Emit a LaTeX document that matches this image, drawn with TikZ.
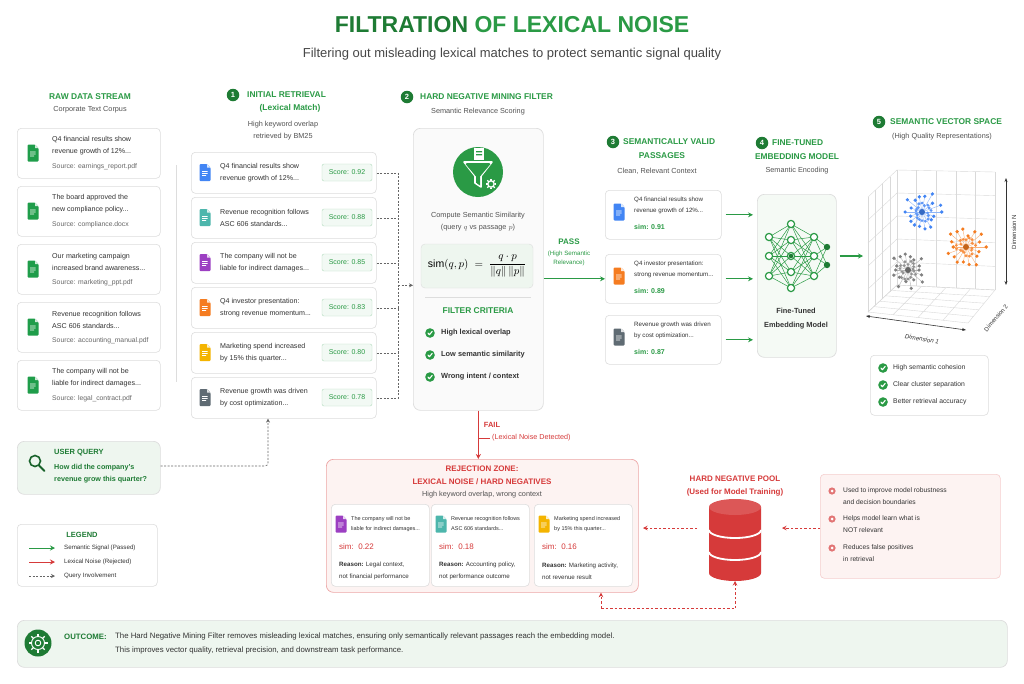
\documentclass[tikz,border=0pt]{standalone}
\usepackage{fontspec}
\setmainfont{Liberation Sans}
\usetikzlibrary{arrows.meta,shapes.geometric,calc}
\definecolor{gD}{HTML}{1E7B34}
\definecolor{gC}{HTML}{2A9A45}
\definecolor{gL}{HTML}{EEF6EF}
\definecolor{rC}{HTML}{D63A3A}
\definecolor{rL}{HTML}{FDF3F2}
\definecolor{txt}{HTML}{333333}
\definecolor{gry}{HTML}{666666}
\definecolor{bdr}{HTML}{DDDDDD}
\definecolor{icB}{HTML}{4285F4}
\definecolor{icT}{HTML}{4DB6AC}
\definecolor{icP}{HTML}{9C3FC2}
\definecolor{icO}{HTML}{F57C20}
\definecolor{icY}{HTML}{F4B400}
\definecolor{icG}{HTML}{5F6B73}
\definecolor{icN}{HTML}{1F9D4A}
\newcommand\fs[2]{\fontsize{#1}{#2}\selectfont}
\newcommand\dd{.\kern0pt.\kern0pt.}
\tikzset{
  card/.style={draw=bdr, fill=white, rounded corners=4pt, line width=0.6pt, anchor=north west, inner sep=0},
  panel/.style={draw=bdr, fill=gL!60, rounded corners=7pt, line width=0.7pt, anchor=north west, inner sep=0},
  ctext/.style={anchor=west, align=left, text=txt, font=\fs{7.1}{12}, inner sep=0},
  stext/.style={anchor=west, text=gry, font=\fs{6.8}{8}, inner sep=0},
  head/.style={text=gC, font=\bfseries\fs{8.4}{13}, align=center, inner sep=0},
  sub/.style={text=txt!85, font=\fs{7.3}{12}, align=center, inner sep=0},
  num/.style={circle, fill=gD, text=white, font=\bfseries\fs{7.5}{7}, minimum size=12.5pt, inner sep=0},
  badge/.style={draw=gC!35, fill=gC!6, rounded corners=2pt, text=gC, font=\fs{7}{8}, minimum width=50pt, minimum height=17pt, inner sep=0},
  garrow/.style={draw=gC, line width=1.1pt, -{Stealth[length=5pt,width=5pt]}},
  rarrow/.style={draw=rC, line width=1pt, -{Stealth[length=5pt,width=5pt]}},
  qline/.style={draw=gry, line width=0.6pt, dash pattern=on 2pt off 1.5pt},
  qarrow/.style={qline, -{Stealth[length=4pt,width=4pt]}},
  rdash/.style={draw=rC, line width=0.9pt, dash pattern=on 2.5pt off 2pt, -{Stealth[length=4.5pt,width=4.5pt]}},
  pics/doc/.style={code={
    \fill[#1, rounded corners=1pt] (-5.5,8.5) -- (-5.5,-8.5) -- (2,-8.5) -- (5.5,-5) -- (5.5,8.5) -- cycle;
    \fill[white!80!#1] (2,-8.5) -- (2,-5) -- (5.5,-5) -- cycle;
    \fill[white] (-3,-1.5) rectangle (2.5,-0.7) (-3,0.5) rectangle (2.5,1.3) (-3,2.5) rectangle (1,3.3);}},
  pics/chk/.style={code={
    \fill[gC] (0,0) circle (4.8);
    \draw[white, line width=1.1pt, line cap=round, line join=round] (-2.1,0.1) -- (-0.6,1.7) -- (2.2,-1.6);}},
  pics/rdot/.style={code={\fill[rC!70] (0,0) circle (3.6); \fill[white] (0,0) circle (1.5);}},
}
\begin{document}
\begin{tikzpicture}[x=1pt,y=-1pt]
\useasboundingbox (0,0) rectangle (1024,683);
\fill[white] (0,0) rectangle (1024,683);

% ---------- title ----------
\node[font=\bfseries\fs{23}{26}, inner sep=0] (title) at (512,25) {\textcolor{gD}{FILTRATION} \textcolor{gC}{OF LEXICAL NOISE}};
\node[font=\fs{13}{15}, text=txt!90, inner sep=0] (subtitle) at (512,54) {Filtering out misleading lexical matches to protect semantic signal quality};

% ---------- raw data stream ----------
\node[head] (rawh) at (90,97) {RAW DATA STREAM};
\node[sub] (raws) at (90,110) {Corporate Text Corpus};
\foreach \i/\a/\b/\s in {1/Q4 financial results show/revenue growth of 12\%\dd/earnings\_report.pdf,
  2/The board approved the/new compliance policy\dd/compliance.docx,
  3/Our marketing campaign/increased brand awareness\dd/marketing\_ppt.pdf,
  4/Revenue recognition follows/ASC 606 standards\dd/accounting\_manual.pdf,
  5/The company will not be/liable for indirect damages\dd/legal\_contract.pdf}{
  \pgfmathsetmacro\top{128+58*(\i-1)}
  \node[card, minimum width=143pt, minimum height=50pt] (raw\i) at (17,\top) {};
  \pic at (33,\top+25) {doc=icN};
  \node[ctext] (rawt\i) at (52,\top+18) {\a\\\b};
  \node[stext] (raws\i) at (52,\top+39) {Source: \s};
}
\draw[bdr, line width=0.7pt] (176,165) -- (176,382);

% ---------- initial retrieval ----------
\node[num] (n1) at (233,95) {1};
\node[head, anchor=west] (reth) at (247,95) {INITIAL RETRIEVAL};
\node[head] (reth2) at (290,108) {(Lexical Match)};
\node[sub] (rets) at (283,131) {High keyword overlap\\retrieved by BM25};
\foreach \i/\c/\a/\b/\sc in {1/icB/Q4 financial results show/revenue growth of 12\%\dd/0.92,
  2/icT/Revenue recognition follows/ASC 606 standards\dd/0.88,
  3/icP/The company will not be/liable for indirect damages\dd/0.85,
  4/icO/Q4 investor presentation:/strong revenue momentum\dd/0.83,
  5/icY/Marketing spend increased/by 15\% this quarter\dd/0.80,
  6/icG/Revenue growth was driven/by cost optimization\dd/0.78}{
  \pgfmathsetmacro\top{152+45*(\i-1)}
  \node[card, minimum width=185pt, minimum height=41pt] (ret\i) at (191,\top) {};
  \pic at (205,\top+20.5) {doc=\c};
  \node[ctext] (rett\i) at (220,\top+20.5) {\a\\\b};
  \node[badge] (sc\i) at (347,\top+20.5) {Score: \sc};
}
\coordinate (bus) at (398,0);
\foreach \i in {1,...,6}{ \draw[qline] (ret\i.east) -- (ret\i.east -| bus); }
\draw[qline] (ret1.east -| bus) -- (ret6.east -| bus);

% ---------- filter ----------
\node[num] (n2) at (407,97) {2};
\node[head, anchor=west] (filh) at (420,97) {HARD NEGATIVE MINING FILTER};
\node[sub] (fils) at (478,112) {Semantic Relevance Scoring};
\node[panel, fill=gray!4, minimum width=130pt, minimum height=282pt] (filt) at (413,128) {};
\draw[qarrow] ($(ret1.east -| bus)!0.5!(ret6.east -| bus)$) -- ($(ret1.east -| filt.west)!0.5!(ret6.east -| filt.west)$);
\node[circle, fill=gC, minimum size=50pt, inner sep=0] (funnel) at (478,172) {};
\fill[white] (474,148) rectangle (484,160);
\fill[gC] (476,151) rectangle (482,152.3) (476,154) rectangle (482,155.3);
\draw[white, line width=1.6pt, line join=round] (464,162) -- (492,162) -- (481,176) -- (481,187) -- (475,183) -- (475,176) -- cycle;
\fill[gC] (465.5,164) -- (490.5,164) -- (480,176.5) -- (480,185.5) -- (476,182.5) -- (476,176.5) -- cycle;
\draw[white, line width=1.3pt] (491,184) circle (3.2);
\foreach \a in {0,45,...,315}{\draw[white, line width=1.3pt] ($(491,184)+(\a:3.5)$) -- ($(491,184)+(\a:5.3)$);}
\node[sub, font=\fs{7.3}{12}] (comp) at (478,222) {Compute Semantic Similarity\\(query $q$ vs passage $p$)};
\node[draw=bdr, fill=gL, rounded corners=4pt, minimum width=112pt, minimum height=44pt, inner sep=0] (form) at (477,266) {\fs{10.5}{12}$\mathrm{sim}(q,p)\;=\;\displaystyle\frac{q\cdot p}{\|q\|\,\|p\|}$};
\draw[bdr, line width=0.7pt] (425,297) -- (531,297);
\node[head] (crit) at (478,311) {FILTER CRITERIA};
\foreach \i/\t in {1/High lexical overlap,2/Low semantic similarity,3/{Wrong intent / context}}{
  \pic at (430,311+22*\i) {chk};
  \node[anchor=west, font=\bfseries\fs{7.4}{9}, text=txt, inner sep=0] (crit\i) at (441,311+22*\i) {\t};
}

% ---------- pass ----------
\node[font=\bfseries\fs{8}{9}, text=gC, inner sep=0] (pass) at (569,242) {PASS};
\node[font=\fs{6.2}{9}, text=gC, align=center, inner sep=0] (passs) at (569,258) {(High Semantic\\Relevance)};

% ---------- valid passages ----------
\node[num] (n3) at (613,142) {3};
\node[head, anchor=west] (valh) at (623,142) {SEMANTICALLY VALID};
\node[head] (valh2) at (662,156) {PASSAGES};
\node[sub] (vals) at (657,171) {Clean, Relevant Context};
\foreach \i/\c/\top/\a/\b/\sm in {1/icB/190/Q4 financial results show/revenue growth of 12\%\dd/0.91,
  2/icO/254/Q4 investor presentation:/strong revenue momentum\dd/0.89,
  3/icG/315/Revenue growth was driven/by cost optimization\dd/0.87}{
  \node[card, minimum width=116pt, minimum height=49pt] (val\i) at (605,\top) {};
  \pic at (619,\top+22) {doc=\c};
  \node[ctext, font=\fs{6.2}{11}] (valt\i) at (634,\top+15) {\a\\\b};
  \node[anchor=west, text=gC, font=\bfseries\fs{7}{8}, inner sep=0] (valsim\i) at (634,\top+37) {sim: \sm};
}
\draw[garrow] (filt.east |- val2.west) -- (val2.west);

% ---------- embedding model ----------
\node[num] (n4) at (762,143) {4};
\node[head, anchor=west] (embh) at (772,143) {FINE-TUNED};
\node[head] (embh2) at (797,157) {EMBEDDING MODEL};
\node[sub] (embs) at (797,171) {Semantic Encoding};
\node[panel, minimum width=79pt, minimum height=163pt] (emb) at (757,194) {};
\foreach \i in {1,2,3}{ \draw[garrow] ($(val\i.east)+(4,0)$) -- ($(val\i.east -| emb.west)+(-4,0)$); }
\foreach \ya in {237,256,276}{\foreach \yb in {224,240,256,272,288}{\draw[gC, line width=0.5pt] (769,\ya) -- (791,\yb);}}
\foreach \ya in {224,240,256,272,288}{\foreach \yb in {237,256,276}{\draw[gC, line width=0.5pt] (791,\ya) -- (814,\yb);}}
\foreach \ya in {237,256,276}{\foreach \yb in {247,265}{\draw[gC, line width=0.5pt] (814,\ya) -- (827,\yb);}}
\foreach \y in {237,256,276}{\fill[white] (769,\y) circle (3.6); \draw[gC, line width=1.2pt] (769,\y) circle (3.6); \fill[white] (814,\y) circle (3.6); \draw[gC, line width=1.2pt] (814,\y) circle (3.6);}
\foreach \y in {224,240,256,272,288}{\fill[white] (791,\y) circle (3.6); \draw[gC, line width=1.2pt] (791,\y) circle (3.6);}
\fill[gD] (791,256) circle (2.3);
\foreach \y in {247,265}{\fill[gD] (827,\y) circle (3.2);}
\node[font=\bfseries\fs{7.4}{14}, text=txt, align=center, inner sep=0] (embt) at (796,319) {Fine-Tuned\\Embedding Model};

% ---------- vector space ----------
\node[num] (n5) at (879,122) {5};
\node[head, anchor=west] (vech) at (890,122) {SEMANTIC VECTOR SPACE};
\node[sub] (vecs) at (942,137) {(High Quality Representations)};
\coordinate (A) at (868,197); \coordinate (B) at (868,312); \coordinate (C) at (968,323);
\coordinate (D) at (995,290); \coordinate (E) at (995,172); \coordinate (F) at (897,170); \coordinate (G) at (897,285);
\coordinate (plotin) at (863,256);
\draw[garrow] ($(emb.east |- plotin)+(3,0)$) -- (plotin);
\begin{scope}[gray!30, line width=0.4pt]
\foreach \t in {0,0.25,0.5,0.75,1}{\draw ($(A)!\t!(F)$) -- ($(B)!\t!(G)$); \draw ($(B)!\t!(C)$) -- ($(G)!\t!(D)$);}
\foreach \t in {0,0.2,0.4,0.6,0.8,1}{\draw ($(A)!\t!(B)$) -- ($(F)!\t!(G)$); \draw ($(F)!\t!(E)$) -- ($(G)!\t!(D)$); \draw ($(F)!\t!(G)$) -- ($(E)!\t!(D)$); \draw ($(B)!\t!(G)$) -- ($(C)!\t!(D)$);}
\end{scope}
\pgfmathsetseed{7}
\foreach \cx/\cy/\col in {922/212/icB,966/247/icO,908/270/gray}{
  \foreach \a in {0,20,...,340}{
    \pgfmathsetmacro\r{11+10*rnd}
    \draw[\col!60, line width=0.4pt] (\cx,\cy) -- ++(\a:\r);
    \fill[\col] ($(\cx,\cy)+(\a:\r)$) circle (1.8);
    \pgfmathsetmacro\q{5+5*rnd}
    \fill[\col!85] ($(\cx,\cy)+(\a+10:\q)$) circle (1.6);
  }
  \fill[\col!80!black] (\cx,\cy) circle (3);
}
\draw[txt, line width=0.6pt, {Stealth[length=4pt]}-{Stealth[length=4pt]}] (1006,178) -- (1006,285);
\node[rotate=90, font=\fs{6}{7}, text=txt, inner sep=0] (dimn) at (1014,232) {Dimension N};
\draw[txt, line width=0.6pt, {Stealth[length=4pt]}-{Stealth[length=4pt]}] (866,316) -- (966,330);
\node[rotate=-10, font=\itshape\fs{6.2}{7}, text=txt, inner sep=0] (dim1) at (922,339) {Dimension 1};
\node[rotate=50, font=\fs{6}{7}, text=txt, inner sep=0] (dim2) at (996,318) {Dimension 2};
\node[card, fill=white, minimum width=118pt, minimum height=60pt] (vbox) at (870,355) {};
\foreach \i/\t in {1/High semantic cohesion,2/Clear cluster separation,3/Better retrieval accuracy}{
  \pic at (883,351+17*\i) {chk};
  \node[anchor=west, font=\fs{6.8}{8}, text=txt, inner sep=0] (vb\i) at (893,351+17*\i) {\t};
}

% ---------- fail / rejection ----------
\node[panel, draw=rC!45, fill=rL, minimum width=312pt, minimum height=133pt] (rej) at (326,459) {};
\draw[rarrow] (filt.south) -- (rej.north -| filt.south);
\draw[rC, line width=0.8pt] (478,438) -- (490,438);
\node[font=\bfseries\fs{7.5}{8}, text=rC, inner sep=0] (fail) at (492,425) {FAIL};
\node[font=\fs{7.2}{8}, text=rC, anchor=west, inner sep=0] (fails) at (492,438) {(Lexical Noise Detected)};
\node[font=\bfseries\fs{8}{13}, text=rC, align=center, inner sep=0] (rejh) at (482,475) {REJECTION ZONE:\\LEXICAL NOISE / HARD NEGATIVES};
\node[sub] (rejs) at (482,495) {High keyword overlap, wrong context};
\foreach \i/\x/\c/\a/\b/\sm/\ra/\rb in {1/331/icP/The company will not be/liable for indirect damages\dd/0.22/{Legal context,}/not financial performance,
  2/431/icT/Revenue recognition follows/ASC 606 standards\dd/0.18/{Accounting policy,}/not performance outcome,
  3/534/icY/Marketing spend increased/by 15\% this quarter\dd/0.16/{Marketing activity,}/not revenue result}{
  \node[card, minimum width=98pt, minimum height=82pt] (rc\i) at (\x,504) {};
  \pic at (\x+10,524) {doc=\c};
  \node[ctext, font=\fs{5.5}{10}] (rct\i) at (\x+20,524) {\a\\\b};
  \node[anchor=west, text=rC, font=\fs{8}{9}, inner sep=0] (rcs\i) at (\x+8,547) {sim:\ \ \sm};
  \node[ctext, font=\fs{6.2}{12}] (rcr\i) at (\x+8,571) {\textbf{Reason:} \ra\\\rb};
}

% ---------- hard negative pool ----------
\node[font=\bfseries\fs{8}{13}, text=rC, align=center, inner sep=0] (poolh) at (735,486) {HARD NEGATIVE POOL\\(Used for Model Training)};
\coordinate (pooltop) at (735,507);
\fill[rC] (709,507) -- (709,573) arc[start angle=180, end angle=0, x radius=26, y radius=8] -- (761,507) -- cycle;
\fill[rC!85!white] (pooltop) ellipse [x radius=26, y radius=8];
\foreach \y in {530,552}{\draw[white, line width=1.8pt] (709,\y) arc[start angle=180, end angle=0, x radius=26, y radius=8];}
\coordinate (poolbot) at (735,581);
\node[card, draw=rC!25, fill=rL, minimum width=180pt, minimum height=104pt] (info) at (820,474) {};
\foreach \i/\t/\y in {1/{Used to improve model robustness\\and decision boundaries}/491,2/{Helps model learn what is\\NOT relevant}/519,3/{Reduces false positives\\in retrieval}/548}{
  \pic at (832,\y) {rdot};
  \node[anchor=north west, align=left, font=\fs{6.7}{12}, text=txt, inner sep=0] (inf\i) at (843,\y-4) {\t};
}
\coordinate (r1) at (782,528); \coordinate (r2) at (643,528); \coordinate (r3) at (697,528);
\draw[rdash] (info.west |- r1) -- (r1);
\draw[rdash] (r3) -- (r2);
\coordinate (lb) at (601,608); \coordinate (rb) at (735,608);
\draw[rdash, -] (lb) -- (rb);
\draw[rdash] (lb) -- (rej.south -| lb);
\draw[rdash] (rb) -- (poolbot);

% ---------- user query ----------
\node[panel, fill=gL, minimum width=143pt, minimum height=53pt] (uq) at (17,441) {};
\draw[gD!80!black, line width=1.6pt] (35,461) circle (5.5);
\draw[gD!80!black, line width=2pt, line cap=round] (39,465.5) -- (44.5,471);
\node[anchor=west, font=\bfseries\fs{7.5}{9}, text=gD, inner sep=0] (uqh) at (54,453) {USER QUERY};
\node[anchor=west, align=left, font=\bfseries\fs{7.2}{12}, text=gD, inner sep=0] (uqt) at (54,474) {How did the company's\\revenue grow this quarter?};
\coordinate (qcorner) at (268,466);
\draw[qarrow, rounded corners=3pt] (uq.east |- qcorner) -- (qcorner) -- (qcorner |- ret6.south);

% ---------- legend ----------
\node[card, minimum width=140pt, minimum height=62pt] (leg) at (17,524) {};
\node[font=\bfseries\fs{7.5}{8}, text=gD, inner sep=0] (legh) at (82,535) {LEGEND};
\coordinate (l1a) at (29,548); \coordinate (l1b) at (55,548);
\coordinate (l2a) at (29,562); \coordinate (l2b) at (55,562);
\coordinate (l3a) at (29,576); \coordinate (l3b) at (55,576);
\draw[garrow, line width=0.8pt] (l1a) -- (l1b);
\draw[rarrow, line width=0.8pt] (l2a) -- (l2b);
\draw[qarrow] (l3a) -- (l3b);
\node[anchor=west, font=\fs{6.2}{7}, text=txt, inner sep=0] (lt1) at (64,548) {Semantic Signal (Passed)};
\node[anchor=west, font=\fs{6.2}{7}, text=txt, inner sep=0] (lt2) at (64,562) {Lexical Noise (Rejected)};
\node[anchor=west, font=\fs{6.2}{7}, text=txt, inner sep=0] (lt3) at (64,576) {Query Involvement};

% ---------- outcome ----------
\node[panel, fill=gL, minimum width=990pt, minimum height=47pt] (out) at (17,620) {};
\node[circle, fill=gD, minimum size=27pt, inner sep=0] (outic) at (38,643) {};
\draw[white, line width=0.9pt] (38,643) circle (6.5) (38,643) circle (2.8);
\foreach \a in {0,45,...,315}{\draw[white, line width=1.2pt] ($(38,643)+(\a:6.5)$) -- ($(38,643)+(\a:9.5)$);}
\node[anchor=west, font=\bfseries\fs{7.8}{9}, text=gD, inner sep=0] (outh) at (64,637) {OUTCOME:};
\node[anchor=west, align=left, font=\fs{7.8}{14}, text=txt, inner sep=0] (outt) at (115,643.5) {The Hard Negative Mining Filter removes misleading lexical matches, ensuring only semantically relevant passages reach the embedding model.\\This improves vector quality, retrieval precision, and downstream task performance.};
\end{tikzpicture}
\end{document}
